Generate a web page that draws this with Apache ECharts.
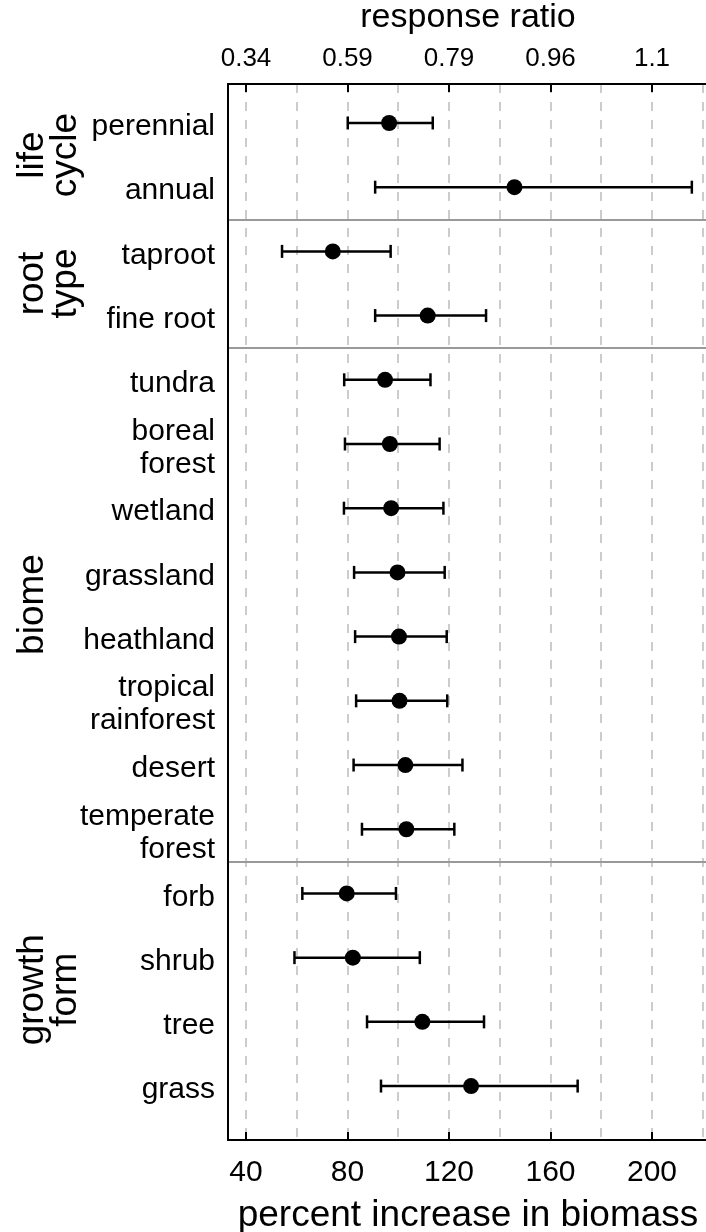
<!DOCTYPE html>
<html>
<head>
<meta charset="utf-8">
<script src="https://cdn.jsdelivr.net/npm/echarts@6/dist/echarts.min.js"></script>
<style>
  html, body { margin: 0; padding: 0; background: #fff; }
  #main { width: 706px; height: 1232px; }
</style>
</head>
<body>
<div id="main"></div>
<script>
// rows, top to bottom
var rowLabels = ['perennial', 'annual', 'taproot', 'fine root', 'tundra', 'boreal\nforest', 'wetland',
  'grassland', 'heathland', 'tropical\nrainforest', 'desert', 'temperate\nforest',
  'forb', 'shrub', 'tree', 'grass'];
var estimate = [96.4, 145.8, 74.2, 111.6, 94.8, 96.7, 97.2, 99.7, 100.3, 100.5, 102.8, 103.2, 79.7, 82.1, 109.5, 128.7];
var lower = [80.1, 90.9, 54.2, 90.9, 78.7, 79.0, 78.6, 82.6, 83.0, 83.4, 82.4, 85.7, 62.2, 59.1, 87.7, 93.2];
var upper = [113.6, 215.7, 97.0, 134.6, 112.7, 116.3, 117.8, 118.3, 119.1, 119.3, 125.3, 122.1, 99.1, 108.5, 133.8, 170.7];

// groups of rows
var groupNames = ['life\ncycle', 'root\ntype', 'biome', 'growth\nform'];
var groupSizes = [2, 2, 8, 4];

// axis ticks
var percentTicks = [40, 80, 120, 160, 200];
var ratioLabels = ['0.34', '0.59', '0.79', '0.96', '1.1'];
var gridValues = [40, 60, 80, 100, 120, 140, 160, 180, 200, 220];

var xMin = 32.906, xMax = 222.07;
var yMin = -0.607, yMax = 15.84;
var labelShift = 0.06; // row labels sit a little below the dots
var FONT = 'Liberation Sans, Arial, Helvetica, sans-serif';

var rowIdx = rowLabels.map(function (d, i) { return i; });

// separators between groups
var sepValues = [];
var acc = 0;
for (var g = 0; g < groupSizes.length - 1; g++) {
  acc += groupSizes[g];
  sepValues.push(acc - 0.5);
}

var chart = echarts.init(document.getElementById('main'));

var axisLineStyle = { color: '#000', width: 2 };

var option = {
  animation: false,
  backgroundColor: '#fff',
  grid: { left: 228, top: 84, width: 480, height: 1056, outerBoundsMode: 'none', containLabel: false },
  xAxis: [{
    type: 'value',
    position: 'bottom',
    min: xMin,
    max: xMax,
    z: 10,
    name: 'percent increase in biomass',
    nameLocation: 'middle',
    nameGap: 57,
    nameTextStyle: { fontSize: 37, fontFamily: FONT, color: '#000' },
    axisLine: { show: true, onZero: false, lineStyle: axisLineStyle },
    axisTick: { show: true, inside: true, length: 8, customValues: percentTicks, lineStyle: axisLineStyle },
    axisLabel: { customValues: percentTicks, fontSize: 30, fontFamily: FONT, color: '#000', margin: 18 },
    splitLine: { show: false }
  }, {
    type: 'value',
    position: 'top',
    min: xMin,
    max: xMax,
    z: 10,
    name: 'response ratio',
    nameLocation: 'middle',
    nameGap: 49,
    nameTextStyle: { fontSize: 34, fontFamily: FONT, color: '#000' },
    axisLine: { show: true, onZero: false, lineStyle: axisLineStyle },
    axisTick: { show: true, inside: true, length: 8, customValues: percentTicks, lineStyle: axisLineStyle },
    axisLabel: {
      customValues: percentTicks,
      fontSize: 26, fontFamily: FONT, color: '#000', margin: 12,
      formatter: function (v) { return ratioLabels[percentTicks.indexOf(v)]; }
    },
    splitLine: { show: false }
  }],
  yAxis: {
    type: 'value',
    inverse: true,
    min: yMin,
    max: yMax,
    z: 10,
    axisLine: { show: true, onZero: false, lineStyle: axisLineStyle },
    axisTick: { show: false },
    splitLine: { show: false },
    axisLabel: {
      customValues: rowIdx.map(function (i) { return i + labelShift; }),
      fontSize: 30, lineHeight: 33, fontFamily: FONT, color: '#000', margin: 13,
      formatter: function (v) { return rowLabels[Math.round(v)]; }
    }
  },
  series: [{
    // dashed grid lines and group separators
    type: 'line',
    data: [],
    silent: true,
    z: 1,
    markLine: {
      silent: true,
      z: 1,
      symbol: 'none',
      label: { show: false },
      animation: false,
      data: gridValues.map(function (v) {
        return { xAxis: v, lineStyle: { color: '#cccccc', width: 2, type: [9, 9] } };
      }).concat(sepValues.map(function (v) {
        return { yAxis: v, lineStyle: { color: '#999999', width: 2, type: 'solid' } };
      }))
    }
  }, {
    type: 'custom',
    z: 3,
    data: rowIdx.map(function (i) { return [lower[i], upper[i], i]; }),
    encode: { x: [0, 1], y: 2 },
    renderItem: function (params, api) {
      var lo = api.coord([api.value(0), api.value(2)]);
      var hi = api.coord([api.value(1), api.value(2)]);
      var cap = 6.5;
      var style = { stroke: '#000', lineWidth: 2.5 };
      return {
        type: 'group',
        children: [
          { type: 'line', shape: { x1: lo[0], y1: lo[1], x2: hi[0], y2: hi[1] }, style: style },
          { type: 'line', shape: { x1: lo[0], y1: lo[1] - cap, x2: lo[0], y2: lo[1] + cap }, style: style },
          { type: 'line', shape: { x1: hi[0], y1: hi[1] - cap, x2: hi[0], y2: hi[1] + cap }, style: style }
        ]
      };
    }
  }, {
    type: 'scatter',
    z: 4,
    symbol: 'circle',
    symbolSize: 16,
    itemStyle: { color: '#000', opacity: 1 },
    data: rowIdx.map(function (i) { return [estimate[i], i]; })
  }]
};

chart.setOption(option);

// group labels on the far left, centred on their rows
var graphics = [];
var start = 0;
for (var k = 0; k < groupNames.length; k++) {
  var mid = start + (groupSizes[k] - 1) / 2;
  var py = chart.convertToPixel({ yAxisIndex: 0 }, mid);
  graphics.push({
    type: 'text',
    x: 16,
    y: py,
    rotation: Math.PI / 2,
    style: {
      text: groupNames[k],
      fontSize: 37,
      lineHeight: 33,
      fontFamily: FONT,
      fill: '#000',
      align: 'center',
      verticalAlign: 'top'
    }
  });
  start += groupSizes[k];
}
chart.setOption({ graphic: graphics });
</script>
</body>
</html>
